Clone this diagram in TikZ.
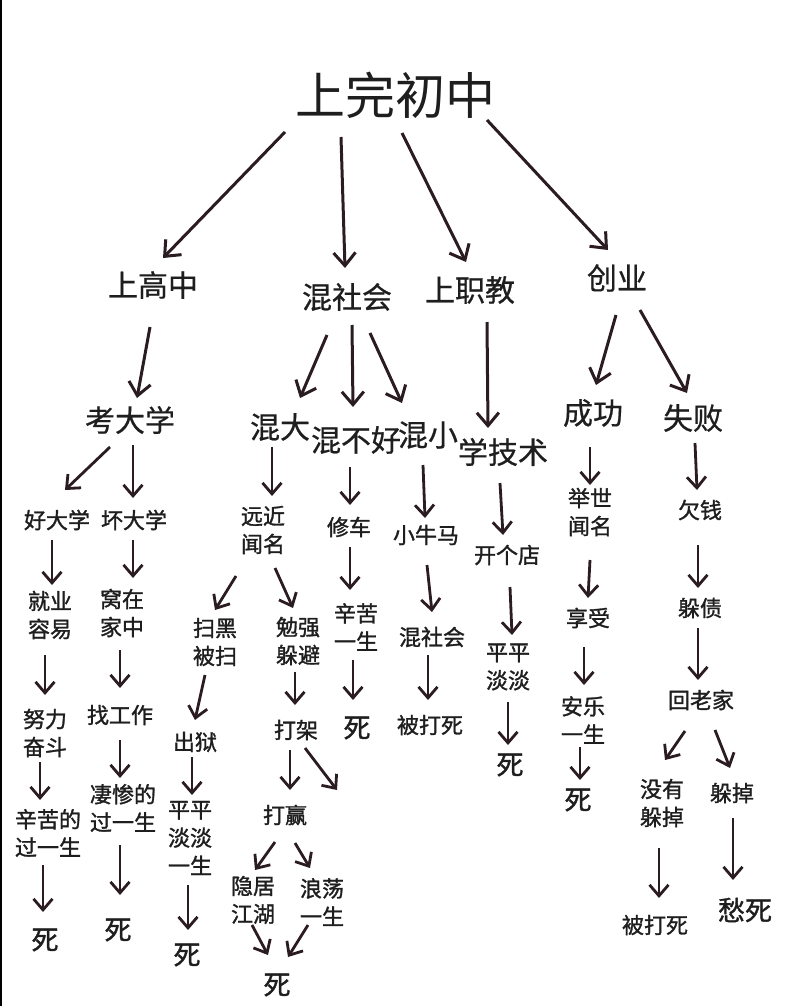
\documentclass[tikz,border=0pt]{standalone}
\usepackage{fontspec}
\newfontfamily\cjk{Noto Sans CJK SC}
\newfontfamily\cjkm{Noto Sans CJK SC}[FakeBold=0.6]
\newfontfamily\cjkb{Noto Sans CJK SC}[FakeBold=1.3]
\usetikzlibrary{arrows.meta,calc}
\definecolor{ink}{HTML}{1E1E1E}
\definecolor{arrowc}{HTML}{2B1C21}
\begin{document}
\begin{tikzpicture}[x=1pt,y=-1pt,
  every node/.style={inner sep=0pt,text=ink,font=\cjk},
  tA/.style={font=\cjk\fontsize{50}{56}\selectfont},
  tB/.style={font=\cjkm\fontsize{30}{34}\selectfont},
  tC/.style={font=\cjkb\fontsize{22}{28}\selectfont,align=center},
  tD/.style={font=\cjkb\fontsize{27}{30}\selectfont},
  arr/.style={draw=arrowc,line width=3pt,-{Straight Barb[length=13pt,width=22pt]}},
  arrS/.style={draw=arrowc,line width=2.8pt,-{Straight Barb[length=11pt,width=19pt]}}]
\useasboundingbox (0,0) rectangle (800,1006);
\fill[white] (0,0) rectangle (800,1006);
\draw[black,line width=2.5pt] (1.2,0) -- (1.2,1006);

% level 0/1
\node[tA] (top) at (395,95) {上完初中};
\node[tB] (gz) at (153,285) {上高中};
\node[tB] (hsh) at (347,297) {混社会};
\node[tB] (zj) at (470,290) {上职教};
\node[tB] (cy) at (617,278) {创业};
% level 2
\node[tB] (kdx) at (130,420) {考大学};
\node[tB] (hd) at (280,427) {混大};
\node[tB] (hbh) at (356,440) {混不好};
\node[tB] (hx) at (428,435) {混小};
\node[tB] (xjs) at (503,452) {学技术};
\node[tB] (cg) at (593,413) {成功};
\node[tB] (sb) at (693,418) {失败};
% level 3
\node[tC] (hdx) at (57,520) {好大学};
\node[tC] (bdx) at (134,520) {坏大学};
\node[tC] (yjwm) at (263,530) {远近\\闻名};
\node[tC] (xc) at (349,527) {修车};
\node[tC] (xnm) at (426,535) {小牛马};
\node[tC] (kgd) at (507,555) {开个店};
\node[tC] (jswm) at (590,512) {举世\\闻名};
\node[tC] (qq) at (700,510) {欠钱};
% level 4
\node[tC] (jyry) at (50,615) {就业\\容易};
\node[tC] (wzjz) at (122,613) {窝在\\家中};
\node[tC] (shbs) at (215,642) {扫黑\\被扫};
\node[tC] (mqdb) at (298,641) {勉强\\躲避};
\node[tC] (xkys) at (356,627) {辛苦\\一生};
\node[tC] (hsh2) at (432,637) {混社会};
\node[tC] (ppdd) at (508,667) {平平\\淡淡};
\node[tC] (xs) at (588,618) {享受};
\node[tC] (dz) at (700,608) {躲债};
% level 5
\node[tC] (nlfd) at (45,733) {努力\\奋斗};
\node[tC] (zgz) at (120,715) {找工作};
\node[tC] (cy2) at (195,742) {出狱};
\node[tC] (dj) at (296,730) {打架};
\node[tD] (s1) at (357,728) {死};
\node[tC] (bds1) at (430,725) {被打死};
\node[tD] (s2) at (510,765) {死};
\node[tC] (alys) at (583,720) {安乐\\一生};
\node[tC] (hlj) at (701,700) {回老家};
% level 6
\node[tC] (xkdg) at (48,833) {辛苦的\\过一生};
\node[tC] (qcdg) at (123,808) {凄惨的\\过一生};
\node[tC] (ppddys) at (190,838) {平平\\淡淡\\一生};
\node[tC] (dy) at (285,815) {打赢};
\node[tD] (s3) at (578,800) {死};
\node[tC] (myddd) at (662,803) {没有\\躲掉};
\node[tC] (ddd) at (732,793) {躲掉};
% level 7
\node[tD] (s4) at (45,940) {死};
\node[tD] (s5) at (118,930) {死};
\node[tD] (s6) at (187,955) {死};
\node[tC] (yjjh) at (253,900) {隐居\\江湖};
\node[tC] (ldys) at (322,902) {浪荡\\一生};
\node[tD] (s7) at (277,985) {死};
\node[tC] (bds2) at (655,925) {被打死};
\node[tD] (cs) at (745,910) {愁死};
\coordinate (djend) at (337,790);

% arrows
\draw[arr] ($(top)+(-110,37)$) -- ($(gz)+(10,-27)$);
\draw[arr] ($(top)+(-54,42)$) -- ($(hsh)+(-2,-29)$);
\draw[arr] ($(top)+(7,38)$) -- ($(zj)+(-4,-28)$);
\draw[arr] ($(top)+(92,25)$) -- ($(cy)+(-9,-28)$);

\draw[arr] ($(gz)+(-3,42)$) -- ($(kdx)+(7,-22)$);
\draw[arr] ($(hsh)+(-20,38)$) -- ($(hd)+(20,-29)$);
\draw[arr] ($(hsh)+(5,28)$) -- ($(hbh)+(-3,-33)$);
\draw[arr] ($(hsh)+(23,36)$) -- ($(hx)+(-26,-32)$);
\draw[arr] ($(zj)+(17,32)$) -- ($(xjs)+(-15,-24)$);
\draw[arr] ($(cy)+(-1,37)$) -- ($(cg)+(3,-28)$);
\draw[arr] ($(cy)+(23,32)$) -- ($(sb)+(-6,-25)$);

\draw[arrS] ($(kdx)+(-20,27)$) -- ($(hdx)+(8,-30)$);
\draw[arrS] ($(kdx)+(3,25)$) -- ($(bdx)+(-1,-22)$);
\draw[arrS] ($(hd)+(-8,20)$) -- ($(yjwm)+(9,-34)$);
\draw[arrS] ($(hbh)+(-6,27)$) -- ($(xc)+(1,-22)$);
\draw[arrS] ($(hx)+(-5,30)$) -- ($(xnm)+(-1,-17)$);
\draw[arrS] ($(xjs)+(-3,31)$) -- ($(kgd)+(-4,-20)$);
\draw[arrS] ($(cg)+(-3,34)$) -- ($(jswm)+(0,-27)$);
\draw[arrS] ($(sb)+(2,25)$) -- ($(qq)+(-3,-20)$);

\draw[arrS] ($(hdx)+(-5,20)$) -- ($(jyry)+(2,-30)$);
\draw[arrS] ($(bdx)+(-1,20)$) -- ($(wzjz)+(11,-35)$);
\draw[arrS] ($(yjwm)+(-27,46)$) -- ($(shbs)+(0,-32)$);
\draw[arrS] ($(yjwm)+(12,38)$) -- ($(mqdb)+(-5,-33)$);
\draw[arrS] ($(xc)+(1,20)$) -- ($(xkys)+(-6,-37)$);
\draw[arrS] ($(xnm)+(1,30)$) -- ($(hsh2)+(0,-25)$);
\draw[arrS] ($(kgd)+(3,32)$) -- ($(ppdd)+(4,-32)$);
\draw[arrS] ($(jswm)+(0,48)$) -- ($(xs)+(0,-20)$);
\draw[arrS] ($(qq)+(-2,35)$) -- ($(dz)+(-2,-20)$);

\draw[arrS] ($(jyry)+(-5,40)$) -- ($(nlfd)+(0,-38)$);
\draw[arrS] ($(wzjz)+(-2,37)$) -- ($(zgz)+(0,-27)$);
\draw[arrS] ($(shbs)+(-10,33)$) -- ($(cy2)+(0,-22)$);
\draw[arrS] ($(mqdb)+(-3,31)$) -- ($(dj)+(-1,-25)$);
\draw[arrS] ($(xkys)+(-3,33)$) -- ($(s1)+(-4,-28)$);
\draw[arrS] ($(hsh2)+(-4,18)$) -- ($(bds1)+(-2,-25)$);
\draw[arrS] ($(ppdd)+(0,35)$) -- ($(s2)+(-2,-20)$);
\draw[arrS] ($(xs)+(-4,29)$) -- ($(alys)+(1,-35)$);
\draw[arrS] ($(dz)+(-2,20)$) -- ($(hlj)+(-3,-20)$);

\draw[arrS] ($(nlfd)+(-5,29)$) -- ($(xkdg)+(-8,-33)$);
\draw[arrS] ($(zgz)+(0,25)$) -- ($(qcdg)+(-3,-30)$);
\draw[arrS] ($(cy2)+(-3,15)$) -- ($(ppddys)+(2,-43)$);
\draw[arrS] ($(dj)+(-6,20)$) -- ($(dy)+(5,-25)$);
\draw[arrS] ($(dj)+(9,18)$) -- (djend);
\draw[arrS] ($(alys)+(-3,27)$) -- ($(s3)+(2,-20)$);
\draw[arrS] ($(hlj)+(-16,31)$) -- ($(myddd)+(3,-43)$);
\draw[arrS] ($(hlj)+(14,30)$) -- ($(ddd)+(-2,-25)$);

\draw[arrS] ($(xkdg)+(-5,32)$) -- ($(s4)+(-2,-28)$);
\draw[arrS] ($(qcdg)+(-3,37)$) -- ($(s5)+(2,-35)$);
\draw[arrS] ($(ppddys)+(-2,47)$) -- ($(s6)+(1,-25)$);
\draw[arrS] ($(dy)+(-10,27)$) -- ($(yjjh)+(2,-30)$);
\draw[arrS] ($(dy)+(10,28)$) -- ($(ldys)+(-12,-34)$);
\draw[arrS] ($(yjjh)+(-1,25)$) -- ($(s7)+(-9,-30)$);
\draw[arrS] ($(ldys)+(-14,23)$) -- ($(s7)+(11,-28)$);
\draw[arrS] ($(myddd)+(-3,45)$) -- ($(bds2)+(4,-27)$);
\draw[arrS] ($(ddd)+(1,25)$) -- ($(cs)+(-12,-30)$);
\end{tikzpicture}
\end{document}
